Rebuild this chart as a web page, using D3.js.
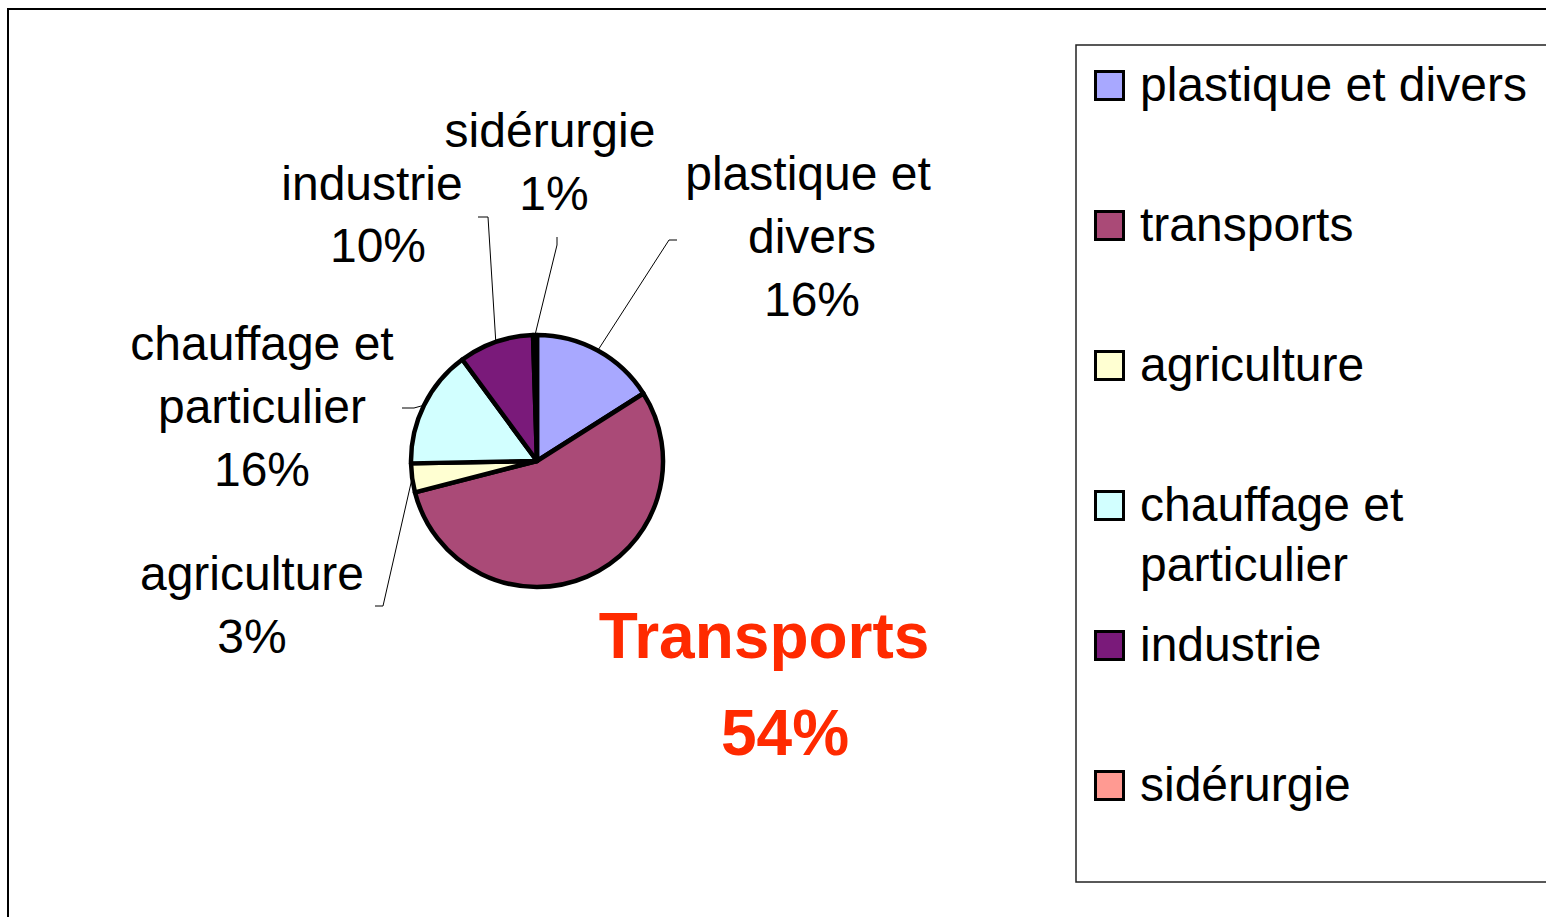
<!DOCTYPE html>
<html>
<head>
<meta charset="utf-8">
<script src="https://cdn.jsdelivr.net/npm/d3@7"></script>
<style>
  body { margin: 0; background: #fff; }
  text { font-family: "Liberation Sans", Arial, sans-serif; }
</style>
</head>
<body>
<div id="chart"></div>
<script>
// Données du graphique
var categories = ["plastique et divers", "transports", "agriculture", "chauffage et particulier", "industrie", "sidérurgie"];
var values = [16, 55, 3.7, 15.2, 9.6, 0.5];
var percentLabels = ["16%", "54%", "3%", "16%", "10%", "1%"];
var sliceLines = [["plastique et", "divers"], ["Transports"], ["agriculture"], ["chauffage et", "particulier"], ["industrie"], ["sidérurgie"]];
var legendLines = [["plastique et divers"], ["transports"], ["agriculture"], ["chauffage et", "particulier"], ["industrie"], ["sidérurgie"]];
var colors = ["#a8a8ff", "#aa4a77", "#ffffd2", "#d2ffff", "#7a1a7a", "#ff9a92"];

var svgWidth = 1546;
var svgHeight = 917;

var svg = d3.select("#chart")
    .append("svg")
    .attr("width", svgWidth)
    .attr("height", svgHeight);

// Cadre extérieur
svg.append("rect")
    .attr("x", 8)
    .attr("y", 9)
    .attr("width", 1700)
    .attr("height", 1000)
    .attr("fill", "none")
    .attr("stroke", "#000")
    .attr("stroke-width", 2);

// Camembert
var cx = 537, cy = 461, radius = 126;

var pie = d3.pie().sort(null).value(d => d);
var arcs = pie(values);
var arc = d3.arc().innerRadius(0).outerRadius(radius);
var edgeArc = d3.arc().innerRadius(radius).outerRadius(radius);

var pieGroup = svg.append("g")
    .attr("transform", `translate(${cx}, ${cy})`);

pieGroup.selectAll("path")
    .data(arcs)
    .enter()
    .append("path")
    .attr("d", arc)
    .attr("fill", (d, i) => colors[i])
    .attr("stroke", "#000")
    .attr("stroke-width", 4.5)
    .attr("stroke-linejoin", "round");

// Position des étiquettes (mise en page) : centres x, première ligne de base, ancrage du trait
var labelLayout = [
    { xs: [808, 812, 812], y: 190, lineGap: 63, anchor: [677, 240], elbow: [669, 240] },
    null,
    { xs: [252, 252], y: 590, lineGap: 63, anchor: [375, 606], elbow: [383, 606] },
    { xs: [262, 262, 262], y: 360, lineGap: 63, anchor: [402, 408], elbow: [414, 408] },
    { xs: [372, 378], y: 200, lineGap: 62, anchor: [478, 217], elbow: [488, 217] },
    { xs: [550, 554], y: 147, lineGap: 63, anchor: [557, 237], elbow: [557, 245] }
];

// Traits de rappel
arcs.forEach(function(d, i) {
    var lay = labelLayout[i];
    if (!lay) return;
    var p = edgeArc.centroid(d);
    var pts = [lay.anchor, lay.elbow, [cx + p[0], cy + p[1]]];
    svg.append("path")
        .attr("d", d3.line()(pts))
        .attr("fill", "none")
        .attr("stroke", "#000")
        .attr("stroke-width", 1);
});

// Étiquettes
categories.forEach(function(c, i) {
    var lay = labelLayout[i];
    if (!lay) return;
    var lines = sliceLines[i].concat([percentLabels[i]]);
    lines.forEach(function(t, j) {
        svg.append("text")
            .attr("x", lay.xs[j])
            .attr("y", lay.y + j * lay.lineGap)
            .attr("text-anchor", "middle")
            .style("font-size", "48px")
            .attr("fill", "#000")
            .text(t);
    });
});

// Étiquette mise en avant : Transports
svg.append("text")
    .attr("x", 764)
    .attr("y", 658)
    .attr("text-anchor", "middle")
    .style("font-size", "64px")
    .style("font-weight", "bold")
    .attr("fill", "#ff2a00")
    .text(sliceLines[1][0]);

svg.append("text")
    .attr("x", 785)
    .attr("y", 755)
    .attr("text-anchor", "middle")
    .style("font-size", "64px")
    .style("font-weight", "bold")
    .attr("fill", "#ff2a00")
    .text(percentLabels[1]);

// Légende
svg.append("rect")
    .attr("x", 1076)
    .attr("y", 45)
    .attr("width", 600)
    .attr("height", 837)
    .attr("fill", "#fff")
    .attr("stroke", "#222")
    .attr("stroke-width", 1.5);

var legendY = d3.scalePoint()
    .domain(categories)
    .range([101, 801]);

var legendGroup = svg.selectAll(".legend-item")
    .data(categories)
    .enter()
    .append("g")
    .attr("class", "legend-item")
    .attr("transform", d => `translate(0, ${legendY(d)})`);

legendGroup.append("rect")
    .attr("x", 1095.5)
    .attr("y", -29.5)
    .attr("width", 28)
    .attr("height", 28)
    .attr("fill", (d, i) => colors[i])
    .attr("stroke", "#000")
    .attr("stroke-width", 3);

legendGroup.each(function(d, i) {
    var g = d3.select(this);
    legendLines[i].forEach(function(t, j) {
        g.append("text")
            .attr("x", 1140)
            .attr("y", j * 60)
            .style("font-size", "48px")
            .attr("fill", "#000")
            .text(t);
    });
});
</script>
</body>
</html>
